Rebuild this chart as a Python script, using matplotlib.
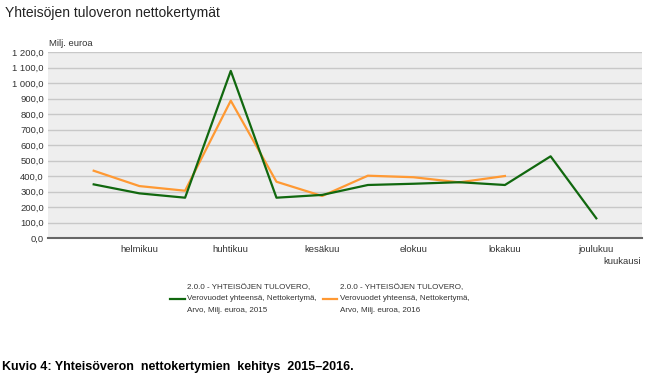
import matplotlib
matplotlib.use("Agg")
import matplotlib.pyplot as plt
from matplotlib.ticker import FuncFormatter

plt.rcParams['font.family'] = ['Liberation Sans', 'DejaVu Sans']

months = [1, 2, 3, 4, 5, 6, 7, 8, 9, 10, 11, 12]
month_labels = ['helmikuu', 'huhtikuu', 'kesäkuu', 'elokuu', 'lokakuu', 'joulukuu']
values_2015 = [346, 288, 260, 1078, 260, 278, 342, 350, 360, 342, 527, 127]
values_2016 = [434, 335, 305, 886, 363, 271, 402, 392, 359, 400]
yticks = list(range(0, 1300, 100))

label_2015 = '2.0.0 - YHTEISÖJEN TULOVERO,\nVerovuodet yhteensä, Nettokertymä,\nArvo, Milj. euroa, 2015'
label_2016 = '2.0.0 - YHTEISÖJEN TULOVERO,\nVerovuodet yhteensä, Nettokertymä,\nArvo, Milj. euroa, 2016'

green = '#11680f'
orange = '#ff9933'
text_col = '#333333'


def fi_number(v, pos):
    # finnish style: space as thousands separator, comma as decimal
    v = int(round(v))
    if v >= 1000:
        return f"{v // 1000} {v % 1000:03d},0"
    return f"{v},0"


fig = plt.figure(figsize=(6.47, 3.74), dpi=100, facecolor='white')
ax = fig.add_axes([48 / 647, 1 - 238 / 374, 594 / 647, 186 / 374])
ax.set_facecolor('#eeeeee')

l1, = ax.plot(months, values_2015, color=green, lw=1.6, zorder=3)
l2, = ax.plot(months[:len(values_2016)], values_2016, color=orange, lw=1.6, zorder=2.5)

ax.set_xlim(0, 13)
ax.set_ylim(0, 1200)
ax.set_yticks(yticks)
ax.yaxis.set_major_formatter(FuncFormatter(fi_number))
ax.set_xticks(months[1::2])
ax.set_xticklabels(month_labels)
ax.grid(axis='y', color='#c8c8c8', lw=1)
ax.set_axisbelow(True)

for s in ['top', 'right', 'left']:
    ax.spines[s].set_visible(False)
ax.spines['bottom'].set_color('#666666')
ax.spines['bottom'].set_linewidth(1.5)
ax.tick_params(length=0, labelsize=6.8, labelcolor=text_col)
ax.tick_params(axis='y', pad=3)
ax.tick_params(axis='x', pad=5)

fig.text(5 / 647, 1 - 13 / 374, 'Yhteisöjen tuloveron nettokertymät', fontsize=10,
         color='#222222', va='center', ha='left')
fig.text(49 / 647, 1 - 44 / 374, 'Milj. euroa', fontsize=6.8, color=text_col, va='center')
fig.text(641 / 647, 1 - 262 / 374, 'kuukausi', fontsize=6.8, color=text_col, va='center', ha='right')

leg = fig.legend([l1, l2], [label_2015, label_2016], loc='center', ncol=2,
                 bbox_to_anchor=(320 / 647, 1 - 299 / 374), frameon=False,
                 fontsize=5.8, handlelength=1.8, handletextpad=0.35, columnspacing=0.7,
                 labelcolor=text_col)
for t in leg.get_texts():
    t.set_linespacing(1.9)

fig.text(2 / 647, 1 - 367 / 374,
         'Kuvio 4: Yhteisöveron  nettokertymien  kehitys  2015–2016.',
         fontsize=9, fontweight='bold', color='black', va='center', ha='left')

fig.savefig('out.png', dpi=100, facecolor='white')
